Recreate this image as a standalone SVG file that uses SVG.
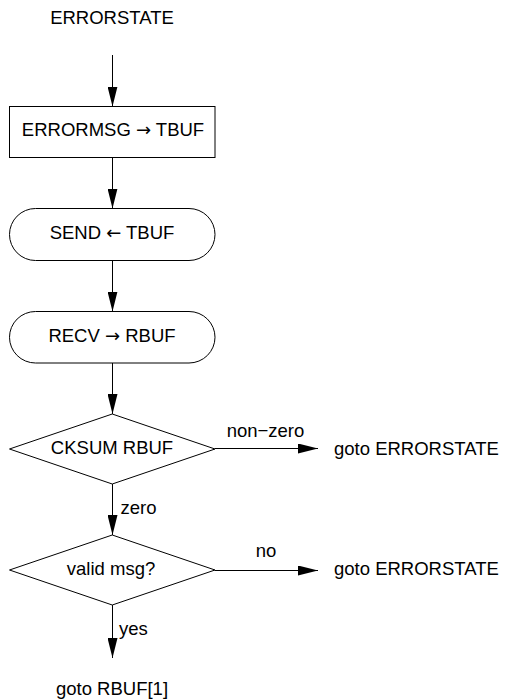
<svg xmlns="http://www.w3.org/2000/svg" width="505" height="700" viewBox="0 0 505 700">
<defs>
<marker id="ah" viewBox="0 0 20 10" refX="20" refY="5" markerWidth="20" markerHeight="10" markerUnits="userSpaceOnUse" orient="auto">
<path d="M0,0 L20,5 L0,10 Z" fill="#000"/>
</marker>
</defs>
<style>
text{font-family:"Liberation Sans",Arial,Helvetica,sans-serif;font-size:18.5px;fill:#000}
.c{text-anchor:middle}
.a{font-family:"DejaVu Sans",sans-serif;font-size:18px}
.s{fill:#fff;stroke:#000;stroke-width:1}
.e{stroke:#000;stroke-width:1;fill:none;marker-end:url(#ah)}
</style>
<rect width="505" height="700" fill="#fff"/>
<g id="start"><text class="c" x="112" y="24">ERRORSTATE</text></g>
<g id="n1"><rect class="s" x="9.5" y="106.5" width="205.5" height="51"/><text class="c" x="113" y="136">ERRORMSG <tspan class="a">→</tspan> TBUF</text></g>
<g id="n2"><rect class="s" x="9.5" y="208.5" width="205.5" height="52" rx="26" ry="26"/><text class="c" x="112" y="238.5">SEND <tspan class="a">←</tspan> TBUF</text></g>
<g id="n3"><rect class="s" x="9.5" y="311.5" width="205.5" height="51.5" rx="26" ry="26"/><text class="c" x="112" y="342">RECV <tspan class="a">→</tspan> RBUF</text></g>
<g id="d1"><polygon class="s" points="112.25,414 215,449 112.25,484 9.5,449"/><text class="c" x="112" y="454">CKSUM RBUF</text></g>
<g id="e1"><text x="334" y="454.5">goto ERRORSTATE</text></g>
<g id="d2"><polygon class="s" points="112.25,535 215,570 112.25,605 9.5,570"/><text class="c" x="111" y="574.5">valid msg?</text></g>
<g id="e2"><text x="334" y="575">goto ERRORSTATE</text></g>
<g id="end"><text class="c" x="112" y="695">goto RBUF[1]</text></g>
<g id="connectors">
<line class="e" x1="112.5" y1="55" x2="112.5" y2="106.5"/>
<line class="e" x1="112.5" y1="157.5" x2="112.5" y2="208.5"/>
<line class="e" x1="112.5" y1="260.5" x2="112.5" y2="311.5"/>
<line class="e" x1="112.5" y1="363" x2="112.5" y2="414"/>
<line class="e" x1="215" y1="448.5" x2="318" y2="448.5"/>
<text class="c" x="265.5" y="436.5">non−zero</text>
<line class="e" x1="112.5" y1="484" x2="112.5" y2="535"/>
<text x="120.5" y="514">zero</text>
<line class="e" x1="215" y1="570.5" x2="318" y2="570.5"/>
<text class="c" x="266" y="557">no</text>
<line class="e" x1="112.5" y1="605" x2="112.5" y2="658"/>
<text x="119" y="635">yes</text>
</g>
</svg>
